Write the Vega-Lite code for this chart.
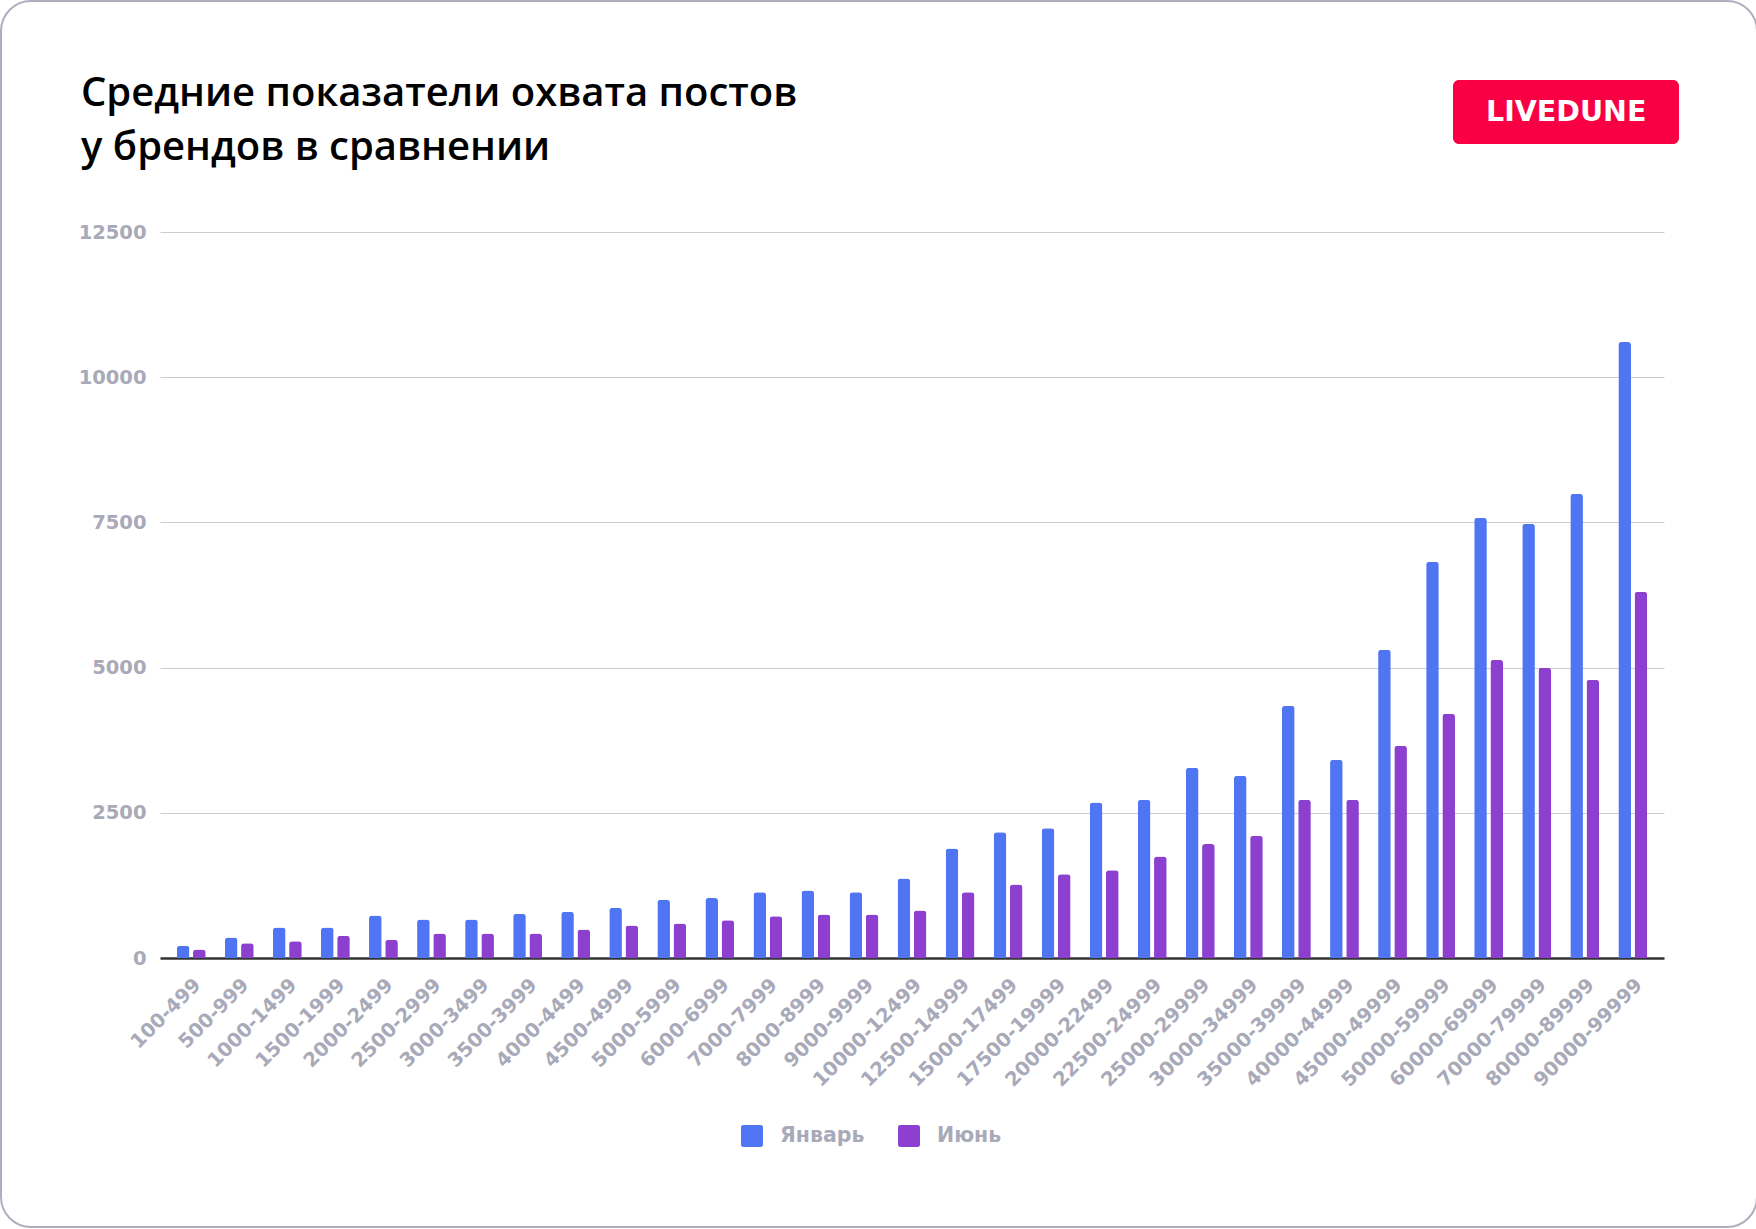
{
  "$schema": "https://vega.github.io/schema/vega-lite/v6.json",
  "width": 1504,
  "height": 726,
  "autosize": {"type": "none"},
  "padding": {"left": 160, "top": 232, "right": 92, "bottom": 271},
  "background": "white",
  "title": {
    "text": ["Средние показатели охвата постов", "у брендов в сравнении"],
    "anchor": "start",
    "frame": "group",
    "dx": -79,
    "offset": -168,
    "font": "Open Sans",
    "fontSize": 40,
    "fontWeight": 600,
    "color": "#000000",
    "lineHeight": 54
  },
  "layer": [
    {
      "data": {
        "values": [
          {"range": "100-499", "month": "Январь", "value": 213},
          {"range": "100-499", "month": "Июнь", "value": 145},
          {"range": "500-999", "month": "Январь", "value": 351},
          {"range": "500-999", "month": "Июнь", "value": 253},
          {"range": "1000-1499", "month": "Январь", "value": 523},
          {"range": "1000-1499", "month": "Июнь", "value": 287},
          {"range": "1500-1999", "month": "Январь", "value": 523},
          {"range": "1500-1999", "month": "Июнь", "value": 385},
          {"range": "2000-2499", "month": "Январь", "value": 730},
          {"range": "2000-2499", "month": "Июнь", "value": 316},
          {"range": "2500-2999", "month": "Январь", "value": 661},
          {"range": "2500-2999", "month": "Июнь", "value": 420},
          {"range": "3000-3499", "month": "Январь", "value": 661},
          {"range": "3000-3499", "month": "Июнь", "value": 420},
          {"range": "3500-3999", "month": "Январь", "value": 764},
          {"range": "3500-3999", "month": "Июнь", "value": 420},
          {"range": "4000-4499", "month": "Январь", "value": 798},
          {"range": "4000-4499", "month": "Июнь", "value": 489},
          {"range": "4500-4999", "month": "Январь", "value": 867},
          {"range": "4500-4999", "month": "Июнь", "value": 558},
          {"range": "5000-5999", "month": "Январь", "value": 1005},
          {"range": "5000-5999", "month": "Июнь", "value": 592},
          {"range": "6000-6999", "month": "Январь", "value": 1032},
          {"range": "6000-6999", "month": "Июнь", "value": 650},
          {"range": "7000-7999", "month": "Январь", "value": 1133},
          {"range": "7000-7999", "month": "Июнь", "value": 719},
          {"range": "8000-8999", "month": "Январь", "value": 1162},
          {"range": "8000-8999", "month": "Июнь", "value": 748},
          {"range": "9000-9999", "month": "Январь", "value": 1133},
          {"range": "9000-9999", "month": "Июнь", "value": 748},
          {"range": "10000-12499", "month": "Январь", "value": 1369},
          {"range": "10000-12499", "month": "Июнь", "value": 817},
          {"range": "12500-14999", "month": "Январь", "value": 1886},
          {"range": "12500-14999", "month": "Июнь", "value": 1133},
          {"range": "15000-17499", "month": "Январь", "value": 2167},
          {"range": "15000-17499", "month": "Июнь", "value": 1265},
          {"range": "17500-19999", "month": "Январь", "value": 2236},
          {"range": "17500-19999", "month": "Июнь", "value": 1443},
          {"range": "20000-22499", "month": "Январь", "value": 2679},
          {"range": "20000-22499", "month": "Июнь", "value": 1512},
          {"range": "22500-24999", "month": "Январь", "value": 2725},
          {"range": "22500-24999", "month": "Июнь", "value": 1748},
          {"range": "25000-29999", "month": "Январь", "value": 3277},
          {"range": "25000-29999", "month": "Июнь", "value": 1962},
          {"range": "30000-34999", "month": "Январь", "value": 3139},
          {"range": "30000-34999", "month": "Июнь", "value": 2106},
          {"range": "35000-39999", "month": "Январь", "value": 4344},
          {"range": "35000-39999", "month": "Июнь", "value": 2726},
          {"range": "40000-44999", "month": "Январь", "value": 3414},
          {"range": "40000-44999", "month": "Июнь", "value": 2726},
          {"range": "45000-49999", "month": "Январь", "value": 5307},
          {"range": "45000-49999", "month": "Июнь", "value": 3655},
          {"range": "50000-59999", "month": "Январь", "value": 6822},
          {"range": "50000-59999", "month": "Июнь", "value": 4206},
          {"range": "60000-69999", "month": "Январь", "value": 7578},
          {"range": "60000-69999", "month": "Июнь", "value": 5135},
          {"range": "70000-79999", "month": "Январь", "value": 7478},
          {"range": "70000-79999", "month": "Июнь", "value": 4998},
          {"range": "80000-89999", "month": "Январь", "value": 7992},
          {"range": "80000-89999", "month": "Июнь", "value": 4790},
          {"range": "90000-99999", "month": "Январь", "value": 10605},
          {"range": "90000-99999", "month": "Июнь", "value": 6304}
        ]
      },
      "mark": {"type": "bar", "cornerRadiusTopLeft": 3, "cornerRadiusTopRight": 3},
      "encoding": {
        "x": {
          "field": "range",
          "type": "nominal",
          "sort": null,
          "title": null,
          "scale": {"paddingInner": 0.4, "paddingOuter": 0.35},
          "axis": {
            "labelAngle": -45,
            "labelFont": "DejaVu Sans",
            "labelFontWeight": "bold",
            "labelFontSize": 19.5,
            "labelColor": "#a9aab9",
            "labelPadding": 17,
            "ticks": false,
            "grid": false,
            "domain": true,
            "domainColor": "#333333",
            "domainWidth": 2.5
          }
        },
        "xOffset": {
          "field": "month",
          "type": "nominal",
          "sort": ["Январь", "Июнь"],
          "scale": {"paddingInner": 0.22}
        },
        "y": {
          "field": "value",
          "type": "quantitative",
          "title": null,
          "scale": {"domain": [0, 12500], "nice": false},
          "axis": {
            "values": [0, 2500, 5000, 7500, 10000, 12500],
            "format": "d",
            "labelFont": "DejaVu Sans",
            "labelFontWeight": "bold",
            "labelFontSize": 19.5,
            "labelColor": "#a9aab9",
            "labelPadding": 14,
            "ticks": false,
            "domain": false,
            "grid": true,
            "gridColor": "#cccccc",
            "gridWidth": 1
          }
        },
        "color": {
          "field": "month",
          "type": "nominal",
          "sort": ["Январь", "Июнь"],
          "scale": {"domain": ["Январь", "Июнь"], "range": ["#4f75f3", "#8d40d0"]},
          "legend": {
            "title": null,
            "orient": "none",
            "legendX": 581,
            "legendY": 893,
            "direction": "horizontal",
            "padding": 0,
            "symbolType": "M-0.8,-1H0.8A0.2,0.2 0 0 1 1,-0.8V0.8A0.2,0.2 0 0 1 0.8,1H-0.8A0.2,0.2 0 0 1 -1,0.8V-0.8A0.2,0.2 0 0 1 -0.8,-1Z",
            "symbolSize": 484,
            "symbolStrokeWidth": 0,
            "labelOffset": 17,
            "columnPadding": 33,
            "labelFont": "DejaVu Sans",
            "labelFontWeight": "bold",
            "labelFontSize": 20.5,
            "labelColor": "#a9aab9"
          }
        }
      }
    },
    {
      "data": {"values": [{"brand": "LIVEDUNE"}]},
      "mark": {"type": "point", "opacity": 0},
      "encoding": {
        "shape": {
          "field": "brand",
          "type": "nominal",
          "legend": {
            "title": null,
            "orient": "none",
            "legendX": 1293,
            "legendY": -152,
            "padding": 16,
            "fillColor": "#f80043",
            "cornerRadius": 6,
            "symbolSize": 1024,
            "symbolOpacity": 0,
            "symbolStrokeWidth": 0,
            "labelOffset": -15,
            "labelLimit": 500,
            "labelFont": "DejaVu Sans",
            "labelFontWeight": "bold",
            "labelFontSize": 28.5,
            "labelColor": "#ffffff",
            "labelExpr": "datum.label + '\u2009\u00a0\u200b'"
          }
        }
      }
    },
    {
      "data": {"values": [{"frame": "MMMMMMMMMMMMMMMMMMMMMMMMMMMMMMMMMMMMMMMMMMMM"}]},
      "mark": {"type": "point", "opacity": 0},
      "encoding": {
        "strokeDash": {
          "field": "frame",
          "type": "nominal",
          "legend": {
            "title": null,
            "orient": "none",
            "legendX": -159,
            "legendY": -231,
            "padding": 603,
            "strokeColor": "#aeafbe",
            "fillColor": null,
            "cornerRadius": 30,
            "symbolSize": 0,
            "symbolOpacity": 0,
            "symbolStrokeWidth": 0,
            "labelOffset": 0,
            "labelLimit": 2000,
            "labelOpacity": 0,
            "labelFont": "DejaVu Sans Mono",
            "labelFontSize": 20
          }
        }
      }
    }
  ],
  "config": {
    "view": {"stroke": null},
    "legend": {"strokeWidth": 2}
  }
}
